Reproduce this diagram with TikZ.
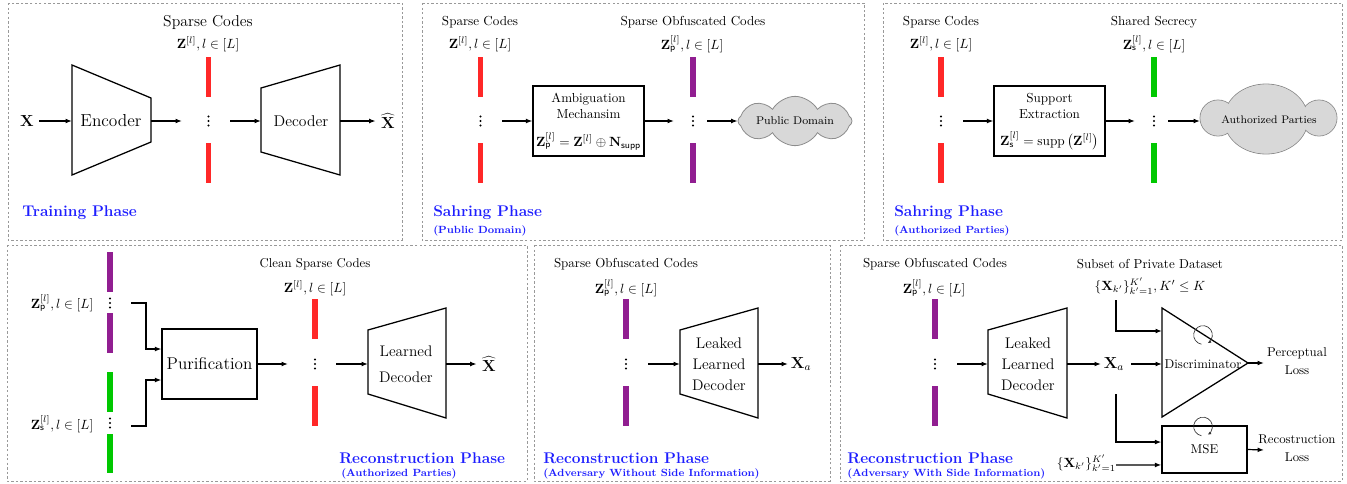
\documentclass[tikz,border=0pt]{standalone}
\usetikzlibrary{arrows.meta,shapes.symbols,calc}
\definecolor{codered}{RGB}{255,40,40}
\definecolor{codepurple}{RGB}{145,30,145}
\definecolor{codegreen}{RGB}{0,200,0}
\definecolor{cloudfill}{RGB}{216,216,216}
\definecolor{cloudline}{RGB}{140,140,140}
\definecolor{titleblue}{RGB}{30,30,255}
\newcommand\fs[1]{\fontsize{#1}{#1}\selectfont}
\newcommand\codebar[4]{\fill[#1] (#2-2.6,#3) rectangle (#2+2.6,#4);}
\newcommand\vdts[2]{\fill (#1,#2+4.5) circle (0.8pt) (#1,#2) circle (0.8pt) (#1,#2-4.5) circle (0.8pt);}
\begin{document}
\begin{tikzpicture}[x=0.75pt,y=0.75pt,
  panel/.style={draw=black!40, line width=0.6pt, dash pattern=on 1.8pt off 1.6pt},
  arr/.style={-{Latex[length=4.8pt,width=3.6pt]}, line width=0.9pt},
  shp/.style={line width=0.95pt, line join=miter},
  txt/.style={inner sep=0pt, font=\fs{9.8}},
  ztxt/.style={inner sep=0pt, font=\fs{10.4}},
  bigx/.style={inner sep=4pt, font=\fs{13}},
  title/.style={inner sep=0pt, anchor=west, text=titleblue, font=\bfseries\fs{11.6}},
  subtitle/.style={inner sep=0pt, anchor=west, text=titleblue, font=\bfseries\fs{7.8}},
  boxn/.style={draw, line width=0.95pt, inner sep=2pt},
  spin/.style={-{Latex[length=2.6pt,width=2.4pt]}, line width=0.5pt, black!80},
]
\useasboundingbox (0,0) rectangle (1347,-483);

% ================= Panel 1 : Training =================
\draw[panel] (8,-3) rectangle (402,-240);
\node[txt,font=\fs{11.8}] (p1sc) at (208,-22) {Sparse Codes};
\node[ztxt] (p1z) at (208,-44) {$\mathbf{Z}^{[l]}, l\in[L]$};
\codebar{codered}{208.5}{-57}{-97}
\codebar{codered}{208.5}{-143}{-183}
\vdts{208.5}{-121}
\coordinate (p1in) at (182,-121);
\coordinate (p1out) at (230,-121);
\node[bigx] (p1x) at (27,-121) {$\mathbf{X}$};
\draw[shp] (72,-65) -- (151,-98) -- (151,-142) -- (72,-175) -- cycle;
\coordinate (encL) at (72,-121);
\coordinate (encR) at (151,-121);
\node[txt,font=\fs{13}] (enc) at (111,-121) {Encoder};
\draw[shp] (261,-88) -- (340,-65) -- (340,-175) -- (261,-152) -- cycle;
\coordinate (decL) at (261,-121);
\coordinate (decR) at (340,-121);
\node[txt,font=\fs{11.7}] (dec) at (301,-121) {Decoder};
\node[bigx] (p1xh) at (388,-121) {$\widehat{\mathbf{X}}$};
\draw[arr] (p1x) -- (encL);
\draw[arr] (encR) -- (p1in);
\draw[arr] (p1out) -- (decL);
\draw[arr] (decR) -- (p1xh);
\node[title] (p1t) at (22,-213) {Training Phase};

% ================= Panel 2 : Sharing (public) =================
\draw[panel] (422,-3) rectangle (864,-240);
\node[txt] (p2sc) at (480,-22) {Sparse Codes};
\node[ztxt] (p2z) at (480,-44) {$\mathbf{Z}^{[l]}, l\in[L]$};
\codebar{codered}{480.5}{-57}{-97}
\codebar{codered}{480.5}{-143}{-183}
\vdts{480.5}{-121}
\coordinate (p2out) at (502,-121);
\node[boxn, minimum width=83.25pt, minimum height=52.5pt] (amb) at (588.5,-121) {};
\node[txt] (amb1) at (588.5,-99) {Ambiguation};
\node[txt] (amb2) at (588.5,-114) {Mechansim};
\node[txt] (amb3) at (588.5,-141) {$\mathbf{Z}_{\mathsf{p}}^{[l]} = \mathbf{Z}^{[l]} \oplus \mathbf{N}_{\mathsf{supp}}$};
\coordinate (p2pin) at (674,-121);
\coordinate (p2pout) at (707,-121);
\node[txt] (p2oc) at (693,-22) {Sparse Obfuscated Codes};
\node[ztxt] (p2zp) at (692,-44) {$\mathbf{Z}_{\mathsf{p}}^{[l]}, l\in[L]$};
\codebar{codepurple}{693}{-57}{-97}
\codebar{codepurple}{693}{-143}{-183}
\vdts{693}{-121}
\node[cloud, cloud puffs=8, cloud puff arc=120, aspect=2.3, draw=cloudline, fill=cloudfill,
      line width=0.6pt, minimum width=85.5pt, minimum height=37pt, inner sep=0pt] (pub) at (795,-121) {};
\node[txt,font=\fs{8.4}] (pubt) at (795,-121) {Public Domain};
\draw[arr] (p2out) -- (amb.west);
\draw[arr] (amb.east) -- (p2pin);
\draw[arr] (p2pout) -- (pub.west);
\node[title] (p2t) at (433,-213) {Sahring Phase};
\node[subtitle] (p2s) at (433,-231) {(Public Domain)};

% ================= Panel 3 : Sharing (authorized) =================
\draw[panel] (883,-3) rectangle (1342,-240);
\node[txt] (p3sc) at (941,-22) {Sparse Codes};
\node[ztxt] (p3z) at (941,-44) {$\mathbf{Z}^{[l]}, l\in[L]$};
\codebar{codered}{941}{-57}{-97}
\codebar{codered}{941}{-143}{-183}
\vdts{941}{-121}
\coordinate (p3out) at (963,-121);
\node[boxn, minimum width=83.25pt, minimum height=52.5pt] (sup) at (1049.5,-121) {};
\node[txt] (sup1) at (1049.5,-99) {Support};
\node[txt] (sup2) at (1049.5,-114) {Extraction};
\node[txt] (sup3) at (1049.5,-141) {$\mathbf{Z}_{\mathsf{s}}^{[l]} = \mathrm{supp}\left(\mathbf{Z}^{[l]}\right)$};
\coordinate (p3gin) at (1135,-121);
\coordinate (p3gout) at (1168,-121);
\node[txt] (p3ss) at (1154,-22) {Shared Secrecy};
\node[ztxt] (p3zs) at (1154,-44) {$\mathbf{Z}_{\mathsf{s}}^{[l]}, l\in[L]$};
\codebar{codegreen}{1154}{-57}{-97}
\codebar{codegreen}{1154}{-143}{-183}
\vdts{1154}{-121}
\filldraw[fill=cloudfill, draw=cloudline, line width=0.6pt]
  (1218,-118) circle (13.5pt) (1319,-118) circle (13.5pt) (1266,-119) ellipse (31.5pt and 26.25pt);
\fill[cloudfill] (1218,-118) circle (13.1pt) (1319,-118) circle (13.1pt) (1266,-119) ellipse (31.1pt and 25.85pt);
\coordinate (authL) at (1200,-121);
\node[txt,font=\fs{8.2}] (autht) at (1269,-120) {Authorized Parties};
\draw[arr] (p3out) -- (sup.west);
\draw[arr] (sup.east) -- (p3gin);
\draw[arr] (p3gout) -- (authL);
\node[title] (p3t) at (894,-213) {Sahring Phase};
\node[subtitle] (p3s) at (894,-231) {(Authorized Parties)};

% ================= Panel 4 : Reconstruction (authorized) =================
\draw[panel] (7,-245) rectangle (527,-481);
\codebar{codepurple}{110}{-252}{-292}
\codebar{codepurple}{110}{-313}{-353}
\vdts{110}{-303}
\codebar{codegreen}{110}{-372}{-412}
\codebar{codegreen}{110}{-434}{-473}
\vdts{110}{-423}
\node[ztxt] (p4zp) at (62,-303) {$\mathbf{Z}_{\mathsf{p}}^{[l]}, l\in[L]$};
\node[ztxt] (p4zs) at (62,-424) {$\mathbf{Z}_{\mathsf{s}}^{[l]}, l\in[L]$};
\coordinate (p4pout) at (131,-303);
\coordinate (p4gout) at (131,-426);
\node[boxn, minimum width=71.25pt, minimum height=52.5pt, font=\fs{12.8}] (pur) at (209.5,-364) {Purification};
\draw[arr] (p4pout) -- ++(15,0) |- ([yshift=11.25pt]pur.west);
\draw[arr] (p4gout) -- ++(15,0) |- ([yshift=-12pt]pur.west);
\node[txt,font=\fs{9.6}] (p4cc) at (315,-264) {Clean Sparse Codes};
\node[ztxt] (p4z) at (315,-288) {$\mathbf{Z}^{[l]}, l\in[L]$};
\codebar{codered}{315}{-299}{-339}
\codebar{codered}{315}{-386}{-426}
\vdts{315}{-364}
\coordinate (p4rin) at (288,-364);
\coordinate (p4rout) at (336,-364);
\draw[shp] (368,-330) -- (446,-308) -- (446,-418) -- (368,-394) -- cycle;
\coordinate (ldL) at (368,-364);
\coordinate (ldR) at (446,-364);
\node[txt,font=\fs{11.5}] (ld1) at (406,-351) {Learned};
\node[txt,font=\fs{11.5}] (ld2) at (406,-377) {Decoder};
\node[bigx] (p4xh) at (489,-364) {$\widehat{\mathbf{X}}$};
\draw[arr] (pur.east) -- (p4rin);
\draw[arr] (p4rout) -- (ldL);
\draw[arr] (ldR) -- (p4xh);
\node[title] (p4t) at (339,-458) {Reconstruction Phase};
\node[subtitle] (p4s) at (341,-474) {(Authorized Parties)};

% ================= Panel 5 : Adversary w/o side info =================
\draw[panel] (534,-245) rectangle (830,-481);
\node[txt,font=\fs{9.75}] (p5oc) at (626,-264) {Sparse Obfuscated Codes};
\node[ztxt] (p5zp) at (626,-288) {$\mathbf{Z}_{\mathsf{p}}^{[l]}, l\in[L]$};
\codebar{codepurple}{626}{-299}{-339}
\codebar{codepurple}{626}{-386}{-426}
\vdts{626}{-364}
\coordinate (p5out) at (648,-364);
\draw[shp] (680,-330) -- (758,-308) -- (758,-418) -- (680,-394) -- cycle;
\coordinate (lld5L) at (680,-364);
\coordinate (lld5R) at (758,-364);
\node[txt,font=\fs{11.5}] (lld5a) at (719,-343) {Leaked};
\node[txt,font=\fs{11.5}] (lld5b) at (719,-364) {Learned};
\node[txt,font=\fs{11.5}] (lld5c) at (719,-385) {Decoder};
\node[inner sep=2pt, font=\fs{11.5}, anchor=west] (p5xa) at (788,-364) {$\mathbf{X}_a$};
\draw[arr] (p5out) -- (lld5L);
\draw[arr] (lld5R) -- (p5xa.west);
\node[title] (p5t) at (543,-458) {Reconstruction Phase};
\node[subtitle] (p5s) at (543,-474) {(Adversary Without Side Information)};

% ================= Panel 6 : Adversary with side info =================
\draw[panel] (840,-245) rectangle (1342,-481);
\node[txt,font=\fs{9.75}] (p6oc) at (935,-264) {Sparse Obfuscated Codes};
\node[ztxt] (p6zp) at (934,-288) {$\mathbf{Z}_{\mathsf{p}}^{[l]}, l\in[L]$};
\codebar{codepurple}{935}{-299}{-339}
\codebar{codepurple}{935}{-386}{-426}
\vdts{935}{-364}
\coordinate (p6out) at (957,-364);
\draw[shp] (988,-330) -- (1067,-308) -- (1067,-418) -- (988,-394) -- cycle;
\coordinate (lld6L) at (988,-364);
\coordinate (lld6R) at (1067,-364);
\node[txt,font=\fs{11.5}] (lld6a) at (1028,-343) {Leaked};
\node[txt,font=\fs{11.5}] (lld6b) at (1028,-364) {Learned};
\node[txt,font=\fs{11.5}] (lld6c) at (1028,-385) {Decoder};
\node[inner sep=2pt, font=\fs{11.5}] (p6xa) at (1114,-364) {$\mathbf{X}_a$};
\draw[arr] (p6out) -- (lld6L);
\draw[arr] (lld6R) -- (p6xa.west);
\node[txt,font=\fs{9.75}] (p6sub) at (1150,-264) {Subset of Private Dataset};
\node[ztxt] (p6set) at (1150,-286) {$\{\mathbf{X}_{k'}\}_{k'=1}^{K'}, K'\leq K$};
% discriminator
\draw[shp] (1162,-308) -- (1248,-363) -- (1162,-417) -- cycle;
\coordinate (discA) at (1162,-331);
\coordinate (discB) at (1162,-364);
\coordinate (discR) at (1248,-363);
\node[txt,font=\fs{9.6}] (disc) at (1203,-364) {Discriminator};
\draw[spin] (1203,-335) ++(260:7pt) arc[start angle=260, end angle=-60, radius=7pt];
% MSE
\node[boxn, minimum width=63.75pt, minimum height=35.25pt, font=\fs{9.6}] (mse) at (1204.5,-449.5) {MSE};
\draw[spin] (1203,-426.5) ++(260:7pt) arc[start angle=260, end angle=-60, radius=7pt];
\coordinate (setdown) at (1116,-300);
\coordinate (xadown) at (1116,-394);
\coordinate (xaright) at (1131,-364);
\draw[arr] (setdown) |- (discA);
\draw[arr] (xaright) -- (discB);
\draw[arr] (xadown) |- ([yshift=5.6pt]mse.west);
\node[inner sep=0pt, font=\fs{10.4}, anchor=east] (p6set2) at (1116,-463) {$\{\mathbf{X}_{k'}\}_{k'=1}^{K'}$};
\draw[arr] (p6set2.east |- 0,-465) -- ([yshift=-11.6pt]mse.west);
\coordinate (percIn) at (1264,-363);
\coordinate (recIn) at (1264,-450);
\draw[arr] (discR) -- (percIn);
\draw[arr] (mse.east) -- (recIn);
\node[txt,font=\fs{9.6}] (perc1) at (1297,-353) {Perceptual};
\node[txt,font=\fs{9.6}] (perc2) at (1297,-370) {Loss};
\node[txt,font=\fs{9.6}] (rec1) at (1297,-439) {Recostruction};
\node[txt,font=\fs{9.6}] (rec2) at (1297,-457) {Loss};
\node[title] (p6t) at (847,-458) {Reconstruction Phase};
\node[subtitle] (p6s) at (847,-474) {(Adversary With Side Information)};
\end{tikzpicture}
\end{document}
